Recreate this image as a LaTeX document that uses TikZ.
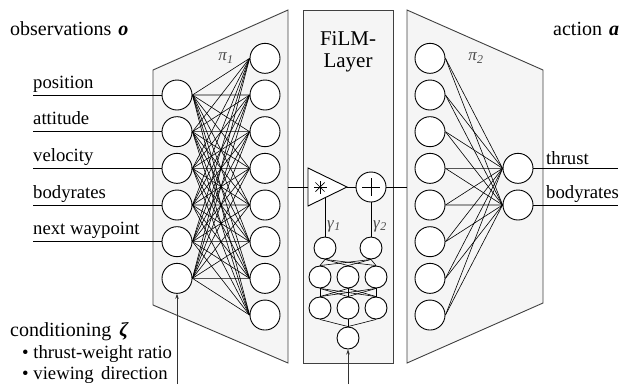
\documentclass[tikz,border=0pt]{standalone}
\usepackage{fontspec}
\setmainfont{Liberation Serif}
\usetikzlibrary{arrows.meta}
\begin{document}
\begin{tikzpicture}[x=1pt, y=-1pt,
  neuron/.style={circle, draw, line width=0.9pt, fill=white, minimum size=30pt, inner sep=0pt},
  subneuron/.style={neuron, minimum size=22pt},
  link/.style={line width=0.6pt},
  feed/.style={line width=0.9pt},
  panel/.style={draw=black!75, line width=0.9pt, fill=gray!8},
  arrow/.style={line width=0.8pt, draw=black!80, -{Stealth[length=5pt, width=3.5pt]}},
  label/.style={font=\fontsize{18.7}{20}\selectfont, anchor=base west, inner sep=0pt},
  title/.style={font=\fontsize{20}{22}\selectfont, anchor=base west, inner sep=0pt},
  greek/.style={font=\fontsize{17}{19}\selectfont, text=black!70, inner sep=0pt}]
  \useasboundingbox (0,0) rectangle (628,384);

  % Panels: pi_1, FiLM layer, pi_2
  \draw[panel] (153,70) -- (288,10) -- (288,363) -- (153,305) -- cycle;
  \draw[panel] (303,10) rectangle (393,363);
  \draw[panel] (407,10) -- (543,70) -- (543,303) -- (407,363) -- cycle;

  % Headings
  \node[title] (obs) at (10,35) {observations\hspace{0.35em}\textbf{\textit{o}}};
  \node[title] (act) at (553,35) {action\hspace{0.35em}\textbf{\textit{a}}};
  \node[title] (cond) at (10,336) {conditioning\hspace{0.4em}\textbf{\textit{ζ}}};
  \node[label] (cond1) at (22,358) {\textbullet\ thrust-weight ratio};
  \node[label] (cond2) at (22,379) {\textbullet\ viewing\hspace{0.4em}direction};

  % Policy pi_1
  \node[greek] (pi1) at (226,58) {\textit{π}\textsubscript{\textit{1}}};
  \foreach \i in {1,...,6} \node[neuron] (in\i) at (177, 58.33+36.67*\i) {};
  \foreach \j in {1,...,8} \node[neuron] (ha\j) at (265, 21.67+36.67*\j) {};
  \foreach \i in {1,...,6} \foreach \j in {1,...,8} \draw[link] (in\i.east) -- (ha\j.west);

  % Observation inputs
  \foreach \lab [count=\i] in {position, attitude, velocity, bodyrates, next waypoint} {
    \coordinate (src\i) at (33, 58.33+36.67*\i);
    \draw[feed] (src\i) -- (in\i.west);
    \node[label] (lab\i) at ([yshift=7pt]src\i) {\lab};
  }
  \coordinate (zeta) at (177,384);
  \draw[arrow] (zeta) -- (in6.south);

  % FiLM layer
  \node[font=\fontsize{21}{22}\selectfont, align=center] (film) at (348,52) {FiLM-\\Layer};
  \draw[line width=0.9pt, fill=white] (308,168) -- (347,187) -- (308,206) -- cycle;
  \coordinate (mulin) at (308,187);
  \coordinate (mulout) at (347,187);
  \coordinate (mulbot) at (325,197.7);
  \foreach \a in {0,45,90,135} \draw[line width=0.7pt] (320,187) ++(\a:6.5) -- ++(\a+180:13);
  \node[neuron] (add) at (371,187) {};
  \draw[line width=0.8pt] ([yshift=9pt]add.center) -- ([yshift=-9pt]add.center);
  \draw[line width=0.8pt] ([xshift=-9pt]add.center) -- ([xshift=9pt]add.center);
  \coordinate (pione) at (288,187);
  \coordinate (pitwo) at (407,187);
  \draw[link] (pione) -- (mulin);
  \draw[link] (mulout) -- (add.west);
  \draw[link] (add.east) -- (pitwo);

  % Conditioning network
  \node[subneuron] (g1) at (325,248) {};
  \node[subneuron] (g2) at (371,248) {};
  \foreach \k/\x in {1/320, 2/348, 3/376} {
    \node[subneuron] (ma\k) at (\x,277) {};
    \node[subneuron] (mb\k) at (\x,308) {};
  }
  \node[subneuron] (gin) at (348,338) {};
  \foreach \i in {1,2} \foreach \k in {1,2,3} \draw[link] (g\i.south) -- (ma\k.north);
  \foreach \i in {1,2,3} \foreach \k in {1,2,3} \draw[link] (ma\i.south) -- (mb\k.north);
  \foreach \i in {1,2,3} \draw[link] (mb\i.south) -- (gin.north);
  \draw[link] (mulbot) -- (g1.north);
  \draw[link] (add.south) -- (g2.north);
  \node[greek] (gam1) at (334,226) {\textit{γ}\textsubscript{\textit{1}}};
  \node[greek] (gam2) at (380,226) {\textit{γ}\textsubscript{\textit{2}}};
  \coordinate (filmin) at (348,384);
  \draw[arrow] (filmin) -- (gin.south);

  % Policy pi_2
  \node[greek] (pi2) at (476,58) {\textit{π}\textsubscript{\textit{2}}};
  \foreach \j in {1,...,8} \node[neuron] (hb\j) at (430, 21.67+36.67*\j) {};
  \node[neuron] (out1) at (518,168.33) {};
  \node[neuron] (out2) at (518,205) {};
  \foreach \j in {1,...,8} \foreach \k in {1,2} \draw[link] (hb\j.east) -- (out\k.west);

  % Actions
  \coordinate (act1) at (618,168.33);
  \coordinate (act2) at (618,205);
  \draw[feed] (out1.east) -- (act1);
  \draw[feed] (out2.east) -- (act2);
  \node[label] (thrust) at (546,164) {thrust};
  \node[label] (rates) at (546,198) {bodyrates};
\end{tikzpicture}
\end{document}
